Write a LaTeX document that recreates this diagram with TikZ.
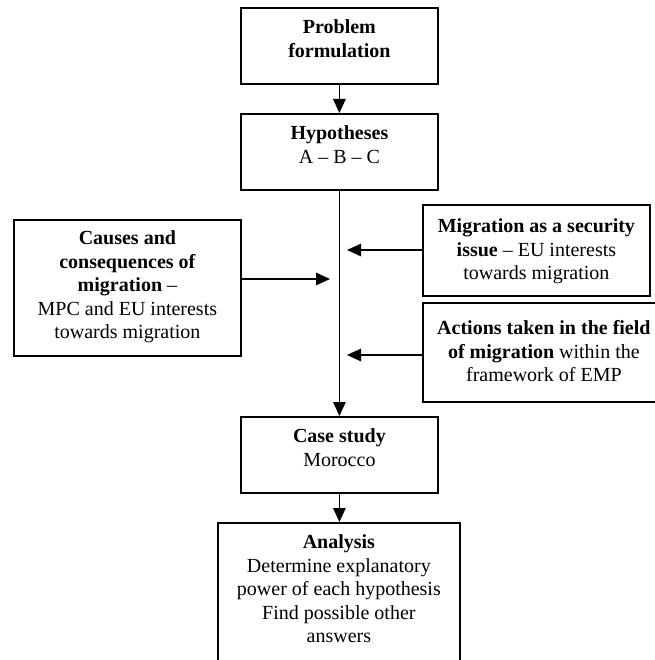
\documentclass[tikz,border=0pt]{standalone}
\usepackage{fontspec}
\setmainfont{Liberation Serif}
\usetikzlibrary{arrows.meta}

% text of a box: width, height, first baseline, lines
\newcommand{\boxtext}[4]{\parbox[c][#2][t]{#1}{\centering\fontsize{20}{23.5}\selectfont\rule{0pt}{#3}#4}}

\tikzset{
  flowbox/.style={draw, line width=1.8pt, inner sep=0pt, anchor=north west},
  link/.style={line width=1.3pt, -{Triangle[length=14pt,width=12.5pt]}}
}

\begin{document}
\begin{tikzpicture}[x=1pt,y=-1pt]
  \useasboundingbox (0,0) rectangle (654,660);
  % Main column
  \node[flowbox, minimum width=197pt, minimum height=76pt] (prob) at (240,7)
    {\boxtext{185pt}{76pt}{26pt}{\textbf{Problem}\\\textbf{formulation}}};
  \node[flowbox, minimum width=197pt, minimum height=76pt] (hyp) at (240,113)
    {\boxtext{185pt}{76pt}{26pt}{\textbf{Hypotheses}\\A -- B -- C}};
  \node[flowbox, minimum width=197pt, minimum height=76pt] (case) at (240,416)
    {\boxtext{185pt}{76pt}{26pt}{\textbf{Case study}\\Morocco}};
  \node[flowbox, minimum width=242pt, minimum height=160pt] (analysis) at (217,522)
    {\boxtext{230pt}{160pt}{26pt}{\textbf{Analysis}\\Determine explanatory\\power of each hypothesis\\Find possible other\\answers}};
  % Side boxes
  \node[flowbox, minimum width=227pt, minimum height=136pt] (causes) at (13,219)
    {\boxtext{215pt}{136pt}{25pt}{\textbf{Causes and}\\\textbf{consequences of}\\\textbf{migration} --\\MPC and EU interests\\towards migration}};
  \node[flowbox, minimum width=227pt, minimum height=91pt] (secur) at (422,204)
    {\boxtext{215pt}{91pt}{28pt}{\textbf{Migration as a security}\\\textbf{issue} -- EU interests\\towards migration}};
  \node[flowbox, minimum width=242pt, minimum height=99pt] (actions) at (422,302)
    {\boxtext{230pt}{99pt}{32pt}{\textbf{Actions taken in the field}\\\textbf{of migration} within the\\framework of EMP}};
  % Arrows
  \draw[link] (prob) -- (hyp);
  \draw[link] (hyp) -- (case);
  \draw[link] (case.south) -- (case.south |- analysis.north);
  \coordinate (inA) at (330,279);
  \coordinate (inB) at (347,250);
  \coordinate (inC) at (347,355);
  \draw[link] (causes.east |- inA) -- (inA);
  \draw[link] (secur.west |- inB) -- (inB);
  \draw[link] (actions.west |- inC) -- (inC);
\end{tikzpicture}
\end{document}
